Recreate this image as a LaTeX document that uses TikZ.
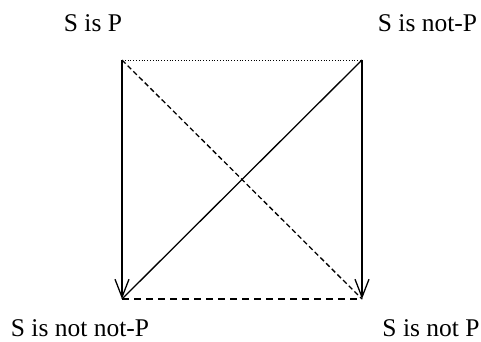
\documentclass[tikz,border=0pt]{standalone}
\usepackage{fontspec}
\setmainfont{Liberation Serif}
\usetikzlibrary{arrows.meta}
\begin{document}
\begin{tikzpicture}[x=1pt,y=1pt,
  lbl/.style={anchor=base,inner sep=0pt,font=\fontsize{25.5}{30}\selectfont},
  arr/.style={line width=1.3pt,-{Straight Barb[length=18pt,width=14pt,line width=1.3pt]}}]
\useasboundingbox (0,0) rectangle (481,341);

\coordinate (sp) at (122,281);
\coordinate (snp) at (362,281);
\coordinate (snnp) at (122,42);
\coordinate (sn) at (362,42);

\node[lbl] (tA) at (93,310) {S is P};
\node[lbl] (tE) at (427.5,310) {S is not-P};
\node[lbl] (tI) at (80,5) {S is not not-P};
\node[lbl] (tO) at (431,5) {S is not P};

\draw[dotted,line width=0.8pt] (sp) -- (snp);
\draw[arr] (sp) -- (snnp);
\draw[arr] (snp) -- (sn);
\draw[line width=1.3pt] (snp) -- (snnp);
\draw[line width=1.3pt,dash pattern=on 5pt off 3pt] (sp) -- (sn);
\draw[line width=1.1pt,dash pattern=on 7pt off 5pt] (snnp) -- (sn);
\end{tikzpicture}
\end{document}
